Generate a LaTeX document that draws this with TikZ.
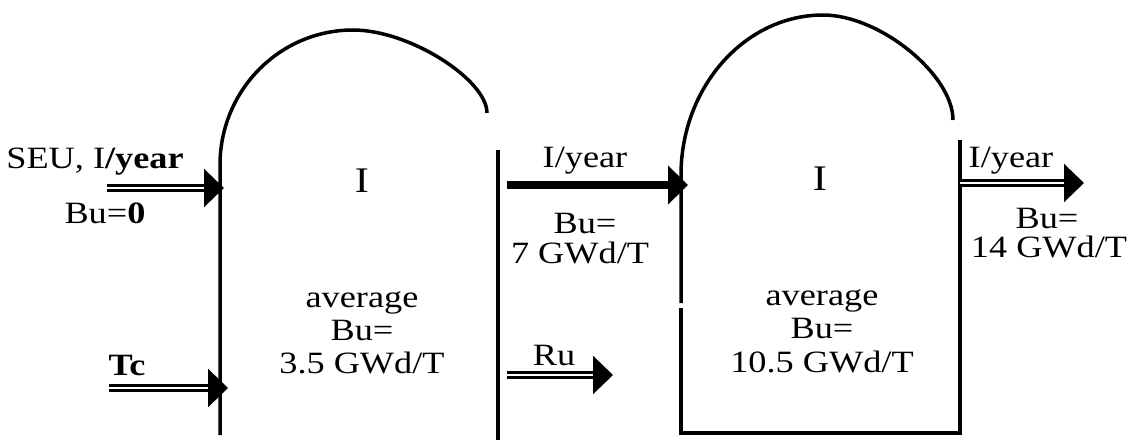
\documentclass[tikz,border=0pt]{standalone}
\usepackage{fontspec}
\setmainfont[FakeStretch=1.17]{Liberation Serif}
\usetikzlibrary{arrows.meta}
\tikzset{
  wallline/.style={line width=3.5pt},
  thickwall/.style={line width=4.5pt},
  dblarrow/.style={double, double distance=2.5pt, line width=2.5pt, -{Triangle[length=20pt,width=38pt]}},
  solidarrow/.style={line width=8pt, -{Triangle[length=20pt,width=38pt]}},
  lbl/.style={inner sep=0pt, anchor=base, font=\fontsize{31}{33}\selectfont},
  bigI/.style={inner sep=0pt, anchor=base, font=\fontsize{36}{40}\selectfont}
}
\begin{document}
\begin{tikzpicture}[x=1pt,y=-1pt]
\useasboundingbox (0,0) rectangle (1128,444);
% vessel 1
\draw[wallline, line join=round] (220,435) -- (220,165)
  .. controls (220,90) and (280,30) .. (353,30)
  .. controls (410,30) and (487,80) .. (487,113);
\draw[thickwall] (498,150) -- (498,440);
% vessel 2
\draw[wallline, line join=round] (681,303) -- (681,175)
  .. controls (681,87) and (745,15) .. (823,15)
  .. controls (880,15) and (953,75) .. (953,120);
\draw[thickwall, line join=miter] (681,308) -- (681,433) -- (960,433) -- (960,140);

% coordinates for connectors
\coordinate (s1) at (107,188); \coordinate (t1) at (224,188);
\coordinate (s2) at (109,388); \coordinate (t2) at (228,388);
\coordinate (s3) at (507,185); \coordinate (t3) at (688,185);
\coordinate (s4) at (960,183); \coordinate (t4) at (1084,183);
\coordinate (s5) at (507,375); \coordinate (t5) at (613,375);

\draw[dblarrow] (s1) -- (t1);
\draw[dblarrow] (s2) -- (t2);
\draw[solidarrow] (s3) -- (t3);
\draw[dblarrow] (s4) -- (t4);
\draw[dblarrow] (s5) -- (t5);

% labels
\node[lbl] (seu) at (95,168) {SEU, I\textbf{/year}};
\node[lbl] (bu0) at (105,223) {Bu=\textbf{0}};
\node[lbl] (tc) at (127,375) {\textbf{Tc}};
\node[bigI] (i1) at (362,192) {I};
\node[bigI] (i2) at (820,190) {I};
\node[lbl] (y2) at (585,167) {I/year};
\node[lbl] (bu7a) at (585,233) {Bu=};
\node[lbl] (bu7b) at (580,263) {7 GWd/T};
\node[lbl] (y3) at (1011,167) {I/year};
\node[lbl] (bu14a) at (1047,228) {Bu=};
\node[lbl] (bu14b) at (1049,257) {14 GWd/T};
\node[lbl] (ru) at (554,365) {Ru};
\node[lbl] (av1a) at (362,307) {average};
\node[lbl] (av1b) at (362,340) {Bu=};
\node[lbl] (av1c) at (362,373) {3.5 GWd/T};
\node[lbl] (av2a) at (822,305) {average};
\node[lbl] (av2b) at (822,338) {Bu=};
\node[lbl] (av2c) at (822,372) {10.5 GWd/T};
\end{tikzpicture}
\end{document}
